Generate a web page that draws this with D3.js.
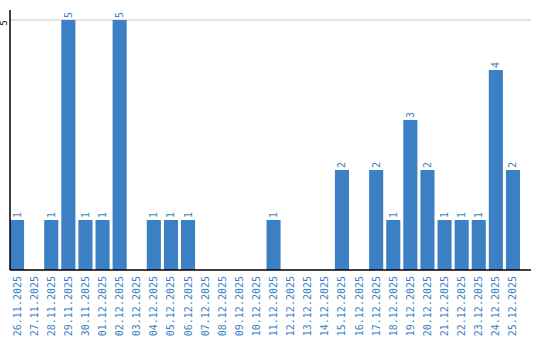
<!DOCTYPE html>
<html lang="en">
<head>
    <meta charset="UTF-8">
    <script src="https://d3js.org/d3.v7.min.js"></script>
    <style>
        html, body { margin: 0; padding: 0; background: #fff; }
        svg { display: block; }
        text { font-family: "DejaVu Sans Mono", monospace; }
    </style>
</head>
<body>
    <script>
        // dates and counts
        const dates = [
            "26.11.2025", "27.11.2025", "28.11.2025", "29.11.2025", "30.11.2025",
            "01.12.2025", "02.12.2025", "03.12.2025", "04.12.2025", "05.12.2025",
            "06.12.2025", "07.12.2025", "08.12.2025", "09.12.2025", "10.12.2025",
            "11.12.2025", "12.12.2025", "13.12.2025", "14.12.2025", "15.12.2025",
            "16.12.2025", "17.12.2025", "18.12.2025", "19.12.2025", "20.12.2025",
            "21.12.2025", "22.12.2025", "23.12.2025", "24.12.2025", "25.12.2025"
        ];
        const counts = [1, 0, 1, 5, 1, 1, 5, 0, 1, 1, 1, 0, 0, 0, 0, 1, 0, 0, 0, 2, 0, 2, 1, 3, 2, 1, 1, 1, 4, 2];
        const yTicks = [5];

        const width = 540, height = 340;
        const left = 10, baseY = 270, topY = 20, axisEnd = 531;
        const blue = "#3b7fc4";

        const svg = d3.select("body").append("svg")
            .attr("width", width)
            .attr("height", height);

        const data = dates.map((d, i) => ({ date: d, value: counts[i] }));

        const x = d3.scaleBand()
            .domain(dates)
            .range([left, left + dates.length * 17])
            .paddingInner(3 / 17)
            .paddingOuter(0)
            .align(0);

        const y = d3.scaleLinear()
            .domain([0, 5])
            .range([baseY, topY]);

        // gridline
        svg.selectAll(".grid")
            .data(yTicks)
            .join("line")
            .attr("x1", left).attr("x2", axisEnd)
            .attr("y1", d => y(d)).attr("y2", d => y(d))
            .attr("stroke", "#c8c8c8")
            .attr("stroke-width", 1);

        // y tick labels
        svg.selectAll(".ylab")
            .data(yTicks)
            .join("text")
            .attr("transform", d => `translate(7,${y(d) + 3}) rotate(-90)`)
            .attr("text-anchor", "middle")
            .attr("font-size", 9)
            .attr("fill", "#000")
            .text(d => d);

        // bars
        svg.selectAll(".bar")
            .data(data.filter(d => d.value > 0))
            .join("rect")
            .attr("x", d => x(d.date))
            .attr("y", d => y(d.value))
            .attr("width", x.bandwidth())
            .attr("height", d => baseY - y(d.value))
            .attr("fill", blue);

        // value labels
        svg.selectAll(".val")
            .data(data.filter(d => d.value > 0))
            .join("text")
            .attr("transform", d => `translate(${x(d.date) + x.bandwidth() / 2 + 3.5},${y(d.value) - 2}) rotate(-90)`)
            .attr("text-anchor", "start")
            .attr("font-size", 10)
            .attr("fill", blue)
            .text(d => d.value);

        // axes lines
        svg.append("line")
            .attr("x1", left).attr("x2", left)
            .attr("y1", 10).attr("y2", baseY)
            .attr("stroke", "#000").attr("stroke-width", 1.5);
        svg.append("line")
            .attr("x1", left).attr("x2", axisEnd)
            .attr("y1", baseY).attr("y2", baseY)
            .attr("stroke", "#000").attr("stroke-width", 1.5);

        // x labels
        svg.selectAll(".xlab")
            .data(dates)
            .join("text")
            .attr("transform", d => `translate(${x(d) + x.bandwidth() / 2 + 3.5},${baseY + 6}) rotate(-90)`)
            .attr("text-anchor", "end")
            .attr("font-size", 10)
            .attr("fill", blue)
            .text(d => d);
    </script>
</body>
</html>
